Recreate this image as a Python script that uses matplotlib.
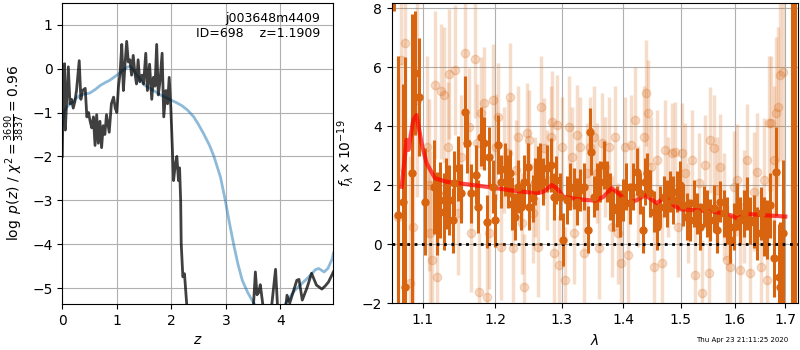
import matplotlib
matplotlib.use("Agg")
import matplotlib.pyplot as plt
from matplotlib.ticker import NullLocator, FixedLocator, FixedFormatter

# ---- left panel: log p(z) ----
z_prior = [0.0, 0.03, 0.08, 0.15, 0.2, 0.25, 0.3, 0.4, 0.5, 0.55, 0.6, 0.65, 0.7, 0.8,
           0.85, 0.9, 1.0, 1.1, 1.2, 1.25, 1.3, 1.4, 1.5, 1.6, 1.7, 1.8, 1.9, 2.0, 2.1,
           2.2, 2.3, 2.41, 2.5, 2.59, 2.7, 2.78, 2.9, 2.98, 3.07, 3.15, 3.22, 3.3, 3.4,
           3.5, 3.6, 3.8, 4.0, 4.09, 4.24, 4.36, 4.49, 4.64, 4.7, 4.8, 4.87, 4.95, 4.97]
logp_prior = [-1.3, -1.0, -0.88, -0.8, -0.75, -0.68, -0.63, -0.58, -0.56, -0.52, -0.48,
              -0.43, -0.38, -0.31, -0.28, -0.24, -0.15, -0.05, 0.04, 0.05, -0.03, -0.2,
              -0.37, -0.45, -0.52, -0.6, -0.66, -0.72, -0.78, -0.85, -0.95, -1.1, -1.28,
              -1.48, -1.75, -2.0, -2.47, -2.95, -3.55, -4.05, -4.45, -4.82, -5.1, -5.32,
              -5.5, -5.7, -5.55, -5.36, -5.08, -4.93, -4.78, -4.58, -4.55, -4.63, -4.55,
              -4.33, -4.2]

z_fit = [0.0, 0.01, 0.04, 0.055, 0.08, 0.11, 0.14, 0.17, 0.2, 0.23, 0.26, 0.31, 0.34,
         0.37, 0.42, 0.45, 0.48, 0.51, 0.54, 0.57, 0.6, 0.63, 0.66, 0.69, 0.72, 0.75,
         0.78, 0.81, 0.86, 0.9, 0.94, 0.97, 1.0, 1.03, 1.06, 1.09, 1.12, 1.15, 1.18,
         1.21, 1.24, 1.27, 1.3, 1.33, 1.36, 1.39, 1.42, 1.46, 1.49, 1.53, 1.56, 1.6,
         1.64, 1.67, 1.7, 1.73, 1.76, 1.79, 1.83, 1.86, 1.9, 1.93, 1.96, 1.99, 2.04,
         2.07, 2.1, 2.13, 2.15, 2.17, 2.18, 2.21, 2.24, 2.28, 2.35, 3.0, 3.45, 3.5,
         3.54, 3.57, 3.6, 3.63, 3.7, 3.83, 3.91, 3.95, 4.09, 4.12, 4.17, 4.3, 4.34,
         4.4, 4.49, 4.57, 4.66, 4.76, 4.82, 4.88, 4.97]
logp_fit = [-2.0, -1.0, 0.11, -1.4, -0.72, 0.04, -0.8, -0.7, -0.9, -0.75, -0.5, 0.18,
            -0.7, -0.5, -0.45, -1.1, -1.0, -1.2, -1.35, -1.1, -1.75, -1.05, -1.7, -1.2,
            -1.8, -1.3, -1.5, -1.05, -1.45, -0.8, -0.65, -0.9, -1.0, -0.4, -0.1, 0.55,
            -0.5, 0.1, 0.62, 0.15, 0.2, -0.15, 0.3, -0.1, -0.35, 0.2, -0.3, -0.15,
            -0.35, 0.35, -0.5, 0.1, -0.7, -0.2, -0.4, 0.55, -0.6, -0.3, 0.35, -1.1,
            -0.5, -0.8, -0.2, -0.9, -2.55, -2.2, -2.0, -2.55, -2.26, -3.0, -3.98, -4.74,
            -4.67, -5.35, -6.0, -6.5, -6.0, -5.5, -4.63, -5.15, -5.1, -4.92, -5.6, -5.5,
            -4.57, -5.5, -5.5, -5.16, -5.34, -4.82, -4.8, -5.27, -4.98, -4.66, -4.93,
            -5.02, -4.95, -4.86, -4.63]

# ---- right panel: spectrum ----
wave_good = [1.0627, 1.0680, 1.0742, 1.0764, 1.0862, 1.0898, 1.0956, 1.1033, 1.1149,
             1.1186, 1.1233, 1.1288, 1.1312, 1.1358, 1.1405, 1.1428, 1.1474, 1.1512,
             1.1567, 1.1605, 1.1651, 1.1730, 1.1763, 1.1800, 1.1847, 1.1884, 1.1916,
             1.1963, 1.2001, 1.2045, 1.2084, 1.2144, 1.2183, 1.2223, 1.2248, 1.2292,
             1.2342, 1.2381, 1.2421, 1.2480, 1.2505, 1.2554, 1.2589, 1.2629, 1.2668,
             1.2718, 1.2767, 1.2827, 1.2876, 1.2916, 1.2975, 1.3027, 1.3081, 1.3134,
             1.3188, 1.3242, 1.3296, 1.3349, 1.3414, 1.3446, 1.3473, 1.3511, 1.3565,
             1.3618, 1.3672, 1.3726, 1.3780, 1.3833, 1.3887, 1.3941, 1.3995, 1.4052,
             1.4110, 1.4169, 1.4227, 1.4285, 1.4331, 1.4372, 1.4401, 1.4459, 1.4517,
             1.4576, 1.4634, 1.4692, 1.4750, 1.4808, 1.4866, 1.4924, 1.4983, 1.5044,
             1.5106, 1.5169, 1.5231, 1.5294, 1.5356, 1.5419, 1.5481, 1.5544, 1.5606,
             1.5669, 1.5731, 1.5794, 1.5856, 1.5919, 1.5981, 1.6046, 1.6112, 1.6178,
             1.6243, 1.6309, 1.6375, 1.6441, 1.6507, 1.6572, 1.6638, 1.6704, 1.6770,
             1.6822, 1.6868, 1.6901, 1.6967, 1.7135, 1.7203]
flux_good = [9.5, 1.0, 1.45, -1.44, 2.41, 5.8, 5.01, 1.45, 1.95, 1.05, 1.5, 1.11, 1.73,
             1.5, 0.82, 2.07, 2.58, 1.73, 4.5, 3.42, 1.73, 2.35, 1.28, 3.65, 3.42, 0.77,
             2.97, 1.95, 0.82, 3.37, 2.12, 2.54, 2.12, 2.41, 1.37, 0.94, 1.95, 1.28, 2.12,
             2.63, 1.28, 1.56, 2.12, 2.52, 2.63, 2.12, 2.58, 2.69, 1.62, 2.18, 1.62, 0.15,
             1.5, 1.95, 1.9, 1.45, 1.84, 1.95, 0.49, 3.82, 3.14, 1.62, 1.95, 2.12, 2.69,
             2.12, 1.62, 1.16, 1.28, 1.05, 1.5, 1.95, 1.39, 1.95, 2.46, 1.73, 0.49, 2.12,
             2.41, 1.73, 1.11, 0.6, 1.28, 1.62, 1.39, 1.79, 1.5, 1.79, 2.01, 1.33, 0.94,
             0.82, 1.39, 1.05, 0.6, 1.28, 1.05, 0.82, 1.22, 0.49, 1.45, 1.05, 0.82, 0.15,
             0.6, 1.28, 0.82, 1.05, 1.39, 0.82, 0.77, 0.37, 1.05, 0.6, 0.49, 1.33, -0.47,
             2.46, -1.1, -1.44, 0.37, 12.0, 12.0]
err_good = [1.6, 5.4, 4.0, 7.8, 5.4, 2.1, 2.0, 1.8, 1.6, 1.4, 1.3, 1.3, 1.2, 1.2, 1.1,
            1.1, 1.1, 1.0, 1.2, 1.0, 1.0, 1.0, 0.9, 1.0, 0.9, 0.9, 1.0, 0.9, 0.9, 1.0,
            0.9, 0.9, 0.9, 0.8, 0.9, 0.8, 0.9, 0.8, 0.9, 0.8, 0.8, 0.8, 0.8, 0.8, 0.8,
            0.8, 0.8, 0.9, 0.8, 0.8, 0.8, 0.9, 0.8, 0.8, 0.7, 0.8, 0.7, 0.8, 0.8, 0.8,
            0.8, 0.7, 0.8, 0.7, 0.8, 0.7, 0.8, 0.7, 0.7, 0.8, 0.7, 0.8, 0.7, 0.8, 0.8,
            0.7, 0.8, 0.8, 0.7, 0.8, 0.7, 0.8, 0.7, 0.7, 0.8, 0.7, 0.8, 0.7, 0.8, 0.7,
            0.8, 0.7, 0.8, 0.7, 0.8, 0.7, 0.8, 0.7, 0.8, 0.8, 0.7, 0.8, 0.8, 0.8, 0.8,
            0.8, 0.8, 0.8, 0.9, 0.8, 0.9, 0.9, 0.9, 1.0, 1.0, 1.1, 1.3, 1.5, 1.8, 2.2,
            2.5, 15.0, 15.0]

wave_bad = [1.0720, 1.0764, 1.0676, 1.0831, 1.0876, 1.0929, 1.1056, 1.1079, 1.1102,
            1.1126, 1.1163, 1.1195, 1.1242, 1.1279, 1.1335, 1.1358, 1.1437, 1.1474,
            1.1521, 1.1577, 1.1623, 1.1660, 1.1707, 1.1744, 1.1777, 1.1800, 1.1847,
            1.1884, 1.1916, 1.1963, 1.2010, 1.2045, 1.2084, 1.2134, 1.2183, 1.2223,
            1.2257, 1.2307, 1.2342, 1.2391, 1.2431, 1.2470, 1.2505, 1.2554, 1.2589,
            1.2629, 1.2688, 1.2728, 1.2777, 1.2827, 1.2851, 1.2886, 1.2926, 1.2965,
            1.3000, 1.3054, 1.3108, 1.3161, 1.3199, 1.3242, 1.3296, 1.3360, 1.3403,
            1.3457, 1.3511, 1.3565, 1.3591, 1.3645, 1.3699, 1.3753, 1.3806, 1.3860,
            1.3914, 1.3968, 1.4023, 1.4081, 1.4122, 1.4198, 1.4256, 1.4343, 1.4390,
            1.4413, 1.4471, 1.4517, 1.4576, 1.4663, 1.4721, 1.4779, 1.4837, 1.4895,
            1.4953, 1.5013, 1.5075, 1.5138, 1.5200, 1.5263, 1.5325, 1.5388, 1.5450,
            1.5513, 1.5544, 1.5606, 1.5669, 1.5731, 1.5794, 1.5856, 1.5919, 1.5981,
            1.6046, 1.6112, 1.6178, 1.6243, 1.6309, 1.6375, 1.6441, 1.6507, 1.6572,
            1.6638, 1.6671, 1.6717, 1.6770, 1.6822, 1.6849, 1.6901, 1.6967]
flux_bad = [6.25, 6.81, 0.94, -1.32, 0.6, 4.89, 3.3, 2.01, 0.37, -0.53, 5.4, -1.1, 5.18,
            5.06, 3.31, 5.76, 5.91, 1.05, 2.97, 6.47, 3.99, 0.37, 6.27, 3.42, -1.6, 4.44,
            4.78, -1.77, 0.37, 4.89, 3.31, 4.33, -0.08, 2.86, 3.08, 5.01, -0.14, 2.52,
            3.65, 0.71, -1.44, 3.76, 3.54, 1.05, 1.95, -0.08, 4.67, 3.25, 2.18, 3.65,
            4.16, -0.31, 4.05, -0.7, 3.31, -1.21, 3.99, 2.97, 0.37, 3.71, 3.31, -0.31,
            2.41, 3.31, 3.65, 2.41, -0.14, 3.42, 2.63, 3.31, 0.6, 3.65, 0.37, -0.64,
            3.31, -0.36, 3.37, 4.21, 1.62, 3.65, 5.12, 4.44, 2.63, -0.76, 2.86, -0.64,
            3.2, 1.95, 3.08, 3.14, 0.6, 3.08, 2.41, 1.05, 2.86, -1.04, 2.07, -1.66, 2.69,
            -0.98, 3.54, 3.25, 1.84, 2.63, 1.28, -0.53, -0.76, 1.95, 2.18, -0.87, 1.28,
            2.86, -0.98, 1.79, 2.46, -0.76, 2.18, -1.21, 4.1, 4.1, 2.86, 4.44, 4.67,
            5.74, 5.85]
err_bad = [3.8, 3.5, 4.8, 4.3, 4.1, 3.3, 3.1, 2.9, 2.8, 2.7, 2.5, 2.5, 2.3, 2.3, 2.2,
           2.2, 2.2, 2.1, 2.1, 2.1, 2.0, 2.0, 2.0, 2.0, 2.0, 1.9, 1.9, 1.9, 1.9, 1.9,
           1.8, 1.8, 1.8, 1.8, 1.8, 1.8, 1.8, 1.7, 1.7, 1.7, 1.8, 1.7, 1.7, 1.7, 1.7,
           1.7, 1.7, 1.7, 1.7, 1.7, 1.7, 1.7, 1.7, 1.7, 1.7, 1.8, 1.7, 1.7, 1.7, 1.7,
           1.7, 1.7, 1.7, 1.7, 1.7, 1.7, 1.7, 1.7, 1.7, 1.7, 1.7, 1.7, 1.7, 1.7, 1.7,
           1.7, 1.7, 1.8, 1.7, 1.7, 1.8, 1.8, 1.7, 1.7, 1.7, 1.7, 1.7, 1.7, 1.7, 1.7,
           1.7, 1.7, 1.7, 1.7, 1.7, 1.8, 1.7, 1.8, 1.7, 1.8, 1.8, 1.8, 1.8, 1.8, 1.8,
           1.8, 1.8, 1.9, 1.9, 1.9, 1.9, 1.9, 2.0, 2.0, 2.0, 2.1, 2.1, 2.2, 2.3, 2.3,
           2.5, 2.6, 2.7, 2.9, 3.1]

wave_model = [1.0726, 1.0790, 1.0813, 1.0876, 1.0920, 1.0986, 1.1052, 1.1163, 1.1321,
              1.1784, 1.2266, 1.2616, 1.2716, 1.2845, 1.2923, 1.3027, 1.3291, 1.3532,
              1.3668, 1.3806, 1.3917, 1.4085, 1.4228, 1.4371, 1.4575, 1.4721, 1.4868,
              1.4989, 1.5603, 1.5920, 1.6049, 1.6243, 1.6571, 1.7006]
flux_model = [1.95, 3.54, 3.2, 4.21, 4.38, 3.42, 2.75, 2.24, 2.12, 1.98, 1.82, 1.73,
              1.78, 2.01, 1.9, 1.61, 1.52, 1.48, 1.61, 1.9, 1.73, 1.39, 1.5, 1.67, 1.39,
              1.61, 1.33, 1.19, 1.11, 0.99, 0.88, 1.03, 0.99, 0.94]

orange = '#d8640f'

fig = plt.figure(figsize=(8, 3.5), dpi=100)
ax1 = fig.add_axes([0.0779, 0.1314, 0.3388, 0.8609])
ax2 = fig.add_axes([0.4896, 0.1334, 0.5083, 0.8589])

ax1.plot(z_prior, logp_prior, color='tab:blue', alpha=0.5, lw=2)
ax1.plot(z_fit, logp_fit, color='k', alpha=0.75, lw=2)
ax1.set_xlim(0, 4.97)
ax1.set_ylim(-5.36, 1.5)
ax1.set_xlabel('$z$')
ax1.set_ylabel(r'$\log\ p(z)$ / $\chi^2=\frac{3690}{3837}=0.96$')
ax1.grid()
ax1.text(0.95, 0.97, 'j003648m4409\nID=698    z=1.1909', ha='right', va='top',
         transform=ax1.transAxes, fontsize=9)

ax2.errorbar(wave_bad, flux_bad, err_bad, marker='o', ms=6, linestyle='None',
             color=orange, alpha=0.22, elinewidth=2.5)
ax2.errorbar(wave_good, flux_good, err_good, marker='o', ms=5, linestyle='None',
             color=orange, alpha=1.0, elinewidth=2.2)
ax2.plot(wave_model, flux_model, color='r', alpha=0.7, lw=3)
ax2.axhline(0, color='k', linestyle=':', lw=2)
ax2.set_xscale('log')
ax2.set_xlim(1.0598, 1.7274)
ax2.set_ylim(-2, 8.19)
ax2.xaxis.set_major_locator(FixedLocator([1.1, 1.2, 1.3, 1.4, 1.5, 1.6, 1.7]))
ax2.xaxis.set_major_formatter(FixedFormatter(['1.1', '1.2', '1.3', '1.4', '1.5', '1.6', '1.7']))
ax2.xaxis.set_minor_locator(NullLocator())
ax2.set_xlabel(r'$\lambda$')
ax2.set_ylabel(r'$f_\lambda\times10^{-19}$')
ax2.grid()

fig.text(0.985, 0.02, 'Thu Apr 23 21:11:25 2020', ha='right', va='bottom', fontsize=5)

plt.savefig('out.png')
plt.close()
